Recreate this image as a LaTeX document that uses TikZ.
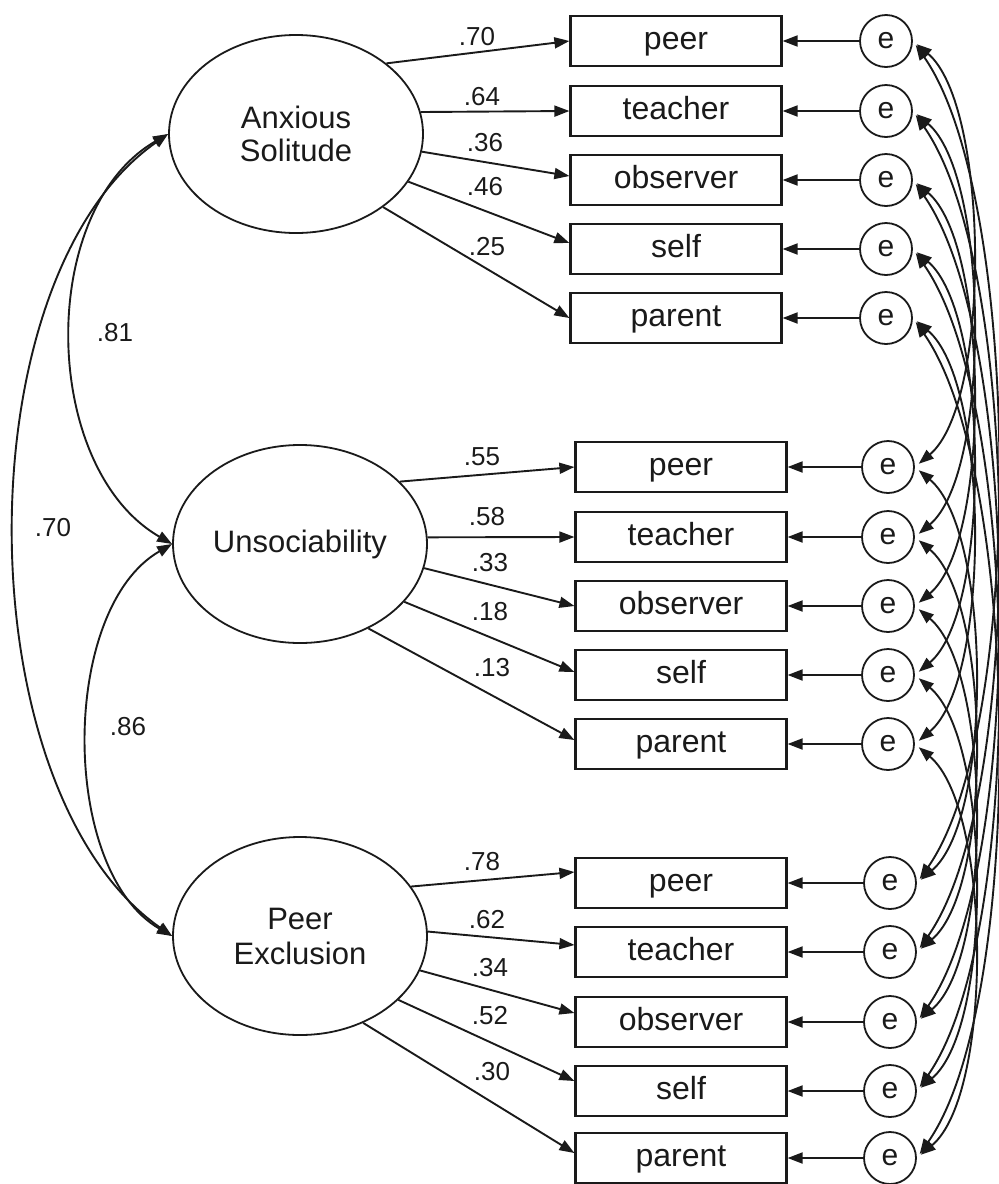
\documentclass[tikz,border=0pt]{standalone}
\usepackage{fontspec}
\setmainfont{Liberation Sans}
\usetikzlibrary{shapes.geometric,arrows.meta}

\definecolor{ink}{HTML}{1a1a1a}

\begin{document}
\begin{tikzpicture}[x=0.5pt, y=0.5pt,
    factor/.style={ellipse, draw=ink, line width=0.9pt, minimum width=127pt, minimum height=99pt,
      inner sep=0pt, align=center, text=ink, font=\fontsize{15.5}{16.5}\selectfont},
    indic/.style={rectangle, draw=ink, line width=1.1pt, minimum width=105.5pt, minimum height=25pt,
      inner sep=0pt, text height=11.5pt, text depth=3.4pt, text=ink, font=\fontsize{16}{18}\selectfont},
    err/.style={circle, draw=ink, line width=0.9pt, minimum size=26pt, inner sep=0pt,
      text=ink, font=\fontsize{15}{17}\selectfont},
    coef/.style={text=ink, inner sep=1pt, font=\fontsize{13}{15}\selectfont},
    load/.style={-{Triangle[length=7.5pt,width=5.5pt]}, draw=ink, line width=0.95pt},
    cov/.style={{Triangle[length=7.5pt,width=5.5pt]}-{Triangle[length=7.5pt,width=5.5pt]}, draw=ink, line width=0.95pt},
    ecov/.style={cov, shorten >=2.5pt, shorten <=2.5pt},
  ]
  \useasboundingbox (0,0) rectangle (998,-1184);

  % latent factors
  \node[factor] (anx) at (296,-134) {Anxious\\Solitude};
  \node[factor] (uns) at (300,-544) {Unsociability};
  \node[factor, font=\fontsize{15.5}{17.5}\selectfont] (exc) at (300,-936) {Peer\\Exclusion};

  % indicators, anxious solitude
  \node[indic] (aPeer) at (676,-41) {peer};
  \node[indic] (aTeacher) at (676,-111) {teacher};
  \node[indic] (aObserver) at (676,-180) {observer};
  \node[indic] (aSelf) at (676,-249) {self};
  \node[indic] (aParent) at (676,-318) {parent};

  % indicators, unsociability
  \node[indic] (uPeer) at (681,-467) {peer};
  \node[indic] (uTeacher) at (681,-537) {teacher};
  \node[indic] (uObserver) at (681,-606) {observer};
  \node[indic] (uSelf) at (681,-675) {self};
  \node[indic] (uParent) at (681,-744) {parent};

  % indicators, peer exclusion
  \node[indic] (pPeer) at (681,-883) {peer};
  \node[indic] (pTeacher) at (681,-952) {teacher};
  \node[indic] (pObserver) at (681,-1022) {observer};
  \node[indic] (pSelf) at (681,-1091) {self};
  \node[indic] (pParent) at (681,-1158) {parent};

  % error terms
  \node[err] (eaPeer) at (886,-41) {e};
  \node[err] (eaTeacher) at (886,-111) {e};
  \node[err] (eaObserver) at (886,-180) {e};
  \node[err] (eaSelf) at (886,-249) {e};
  \node[err] (eaParent) at (886,-318) {e};
  \node[err] (euPeer) at (888,-467) {e};
  \node[err] (euTeacher) at (888,-537) {e};
  \node[err] (euObserver) at (888,-606) {e};
  \node[err] (euSelf) at (888,-675) {e};
  \node[err] (euParent) at (888,-744) {e};
  \node[err] (epPeer) at (890,-883) {e};
  \node[err] (epTeacher) at (890,-952) {e};
  \node[err] (epObserver) at (890,-1022) {e};
  \node[err] (epSelf) at (890,-1091) {e};
  \node[err] (epParent) at (890,-1158) {e};

  % loadings
  \draw[load] (anx.38) -- (aPeer.west);
  \draw[load] (anx.10) -- (aTeacher.west);
  \draw[load] (anx.-8) -- ([yshift=2pt]aObserver.west);
  \draw[load] (anx.-23) -- ([yshift=3pt]aSelf.west);
  \draw[load] (anx.-40) -- (aParent.west);
  \draw[load] (uns.32) -- (uPeer.west);
  \draw[load] (uns.3) -- (uTeacher.west);
  \draw[load] (uns.-11) -- (uObserver.west);
  \draw[load] (uns.-29) -- ([yshift=1.5pt]uSelf.west);
  \draw[load] (uns.-51) -- ([yshift=2pt]uParent.west);
  \draw[load] (exc.24) -- ([yshift=5.5pt]pPeer.west);
  \draw[load] (exc.2) -- ([yshift=3.5pt]pTeacher.west);
  \draw[load] (exc.-16) -- ([yshift=4.5pt]pObserver.west);
  \draw[load] (exc.-33) -- ([yshift=5pt]pSelf.west);
  \draw[load] (exc.-54) -- ([yshift=2.5pt]pParent.west);

  \node[coef] (cA1) at (477,-37) {.70};
  \node[coef] (cA2) at (482,-97) {.64};
  \node[coef] (cA3) at (485,-143) {.36};
  \node[coef] (cA4) at (485,-187) {.46};
  \node[coef] (cA5) at (487,-247) {.25};
  \node[coef] (cU1) at (482,-457) {.55};
  \node[coef] (cU2) at (487,-517) {.58};
  \node[coef] (cU3) at (490,-563) {.33};
  \node[coef] (cU4) at (490,-612) {.18};
  \node[coef] (cU5) at (492,-668) {.13};
  \node[coef] (cP1) at (482,-862) {.78};
  \node[coef] (cP2) at (487,-920) {.62};
  \node[coef] (cP3) at (490,-968) {.34};
  \node[coef] (cP4) at (490,-1016) {.52};
  \node[coef] (cP5) at (492,-1072) {.30};

  % errors into indicators
  \draw[load] (eaPeer) -- (aPeer);
  \draw[load] (eaTeacher) -- (aTeacher);
  \draw[load] (eaObserver) -- (aObserver);
  \draw[load] (eaSelf) -- (aSelf);
  \draw[load] (eaParent) -- (aParent);
  \draw[load] (euPeer) -- (uPeer);
  \draw[load] (euTeacher) -- (uTeacher);
  \draw[load] (euObserver) -- (uObserver);
  \draw[load] (euSelf) -- (uSelf);
  \draw[load] (euParent) -- (uParent);
  \draw[load] (epPeer) -- (pPeer);
  \draw[load] (epTeacher) -- (pTeacher);
  \draw[load] (epObserver) -- (pObserver);
  \draw[load] (epSelf) -- (pSelf);
  \draw[load] (epParent) -- (pParent);

  % factor correlations
  \draw[cov] (anx.west) .. controls +(-150:152) and +(150:152) .. (uns.west);
  \draw[cov] (anx.west) .. controls +(-145:253) and +(145:253) .. (exc.west);
  \draw[cov] (uns.west) .. controls +(-150:130) and +(150:130) .. (exc.west);
  \node[coef] (rAU) at (115,-333) {.81};
  \node[coef] (rAP) at (53,-528) {.70};
  \node[coef] (rUP) at (128,-727) {.86};

  % correlated errors, same informant
  \draw[ecov] (eaPeer.east) .. controls +(-40:100) and +(40:100) .. (euPeer.east);
  \draw[ecov] (eaTeacher.east) .. controls +(-40:100) and +(40:100) .. (euTeacher.east);
  \draw[ecov] (eaObserver.east) .. controls +(-40:100) and +(40:100) .. (euObserver.east);
  \draw[ecov] (eaSelf.east) .. controls +(-40:100) and +(40:100) .. (euSelf.east);
  \draw[ecov] (eaParent.east) .. controls +(-40:100) and +(40:100) .. (euParent.east);
  \draw[ecov] (euPeer.east) .. controls +(-40:100) and +(40:100) .. (epPeer.east);
  \draw[ecov] (euTeacher.east) .. controls +(-40:100) and +(40:100) .. (epTeacher.east);
  \draw[ecov] (euObserver.east) .. controls +(-40:100) and +(40:100) .. (epObserver.east);
  \draw[ecov] (euSelf.east) .. controls +(-40:100) and +(40:100) .. (epSelf.east);
  \draw[ecov] (euParent.east) .. controls +(-40:100) and +(40:100) .. (epParent.east);
  \draw[ecov] (eaPeer.east) .. controls +(-55:190) and +(55:190) .. (epPeer.east);
  \draw[ecov] (eaTeacher.east) .. controls +(-55:190) and +(55:190) .. (epTeacher.east);
  \draw[ecov] (eaObserver.east) .. controls +(-55:190) and +(55:190) .. (epObserver.east);
  \draw[ecov] (eaSelf.east) .. controls +(-55:190) and +(55:190) .. (epSelf.east);
  \draw[ecov] (eaParent.east) .. controls +(-55:190) and +(55:190) .. (epParent.east);
\end{tikzpicture}
\end{document}
